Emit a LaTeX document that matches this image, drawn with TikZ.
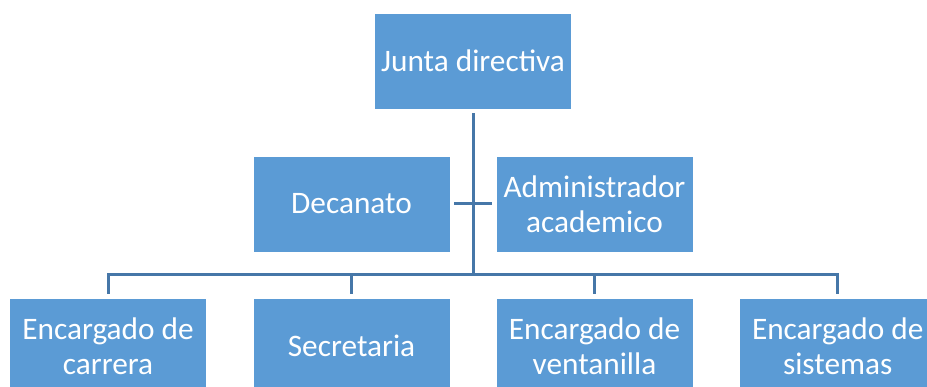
\documentclass[tikz,border=0pt]{standalone}
\usepackage{fontspec}
\setmainfont{Carlito}
\definecolor{boxblue}{HTML}{5B9BD5}
\definecolor{linecol}{HTML}{4677A8}
\begin{document}
\begin{tikzpicture}[x=1pt,y=-1pt,
  box/.style={fill=boxblue,draw=white,line width=0.8pt,text=white,align=center,
    minimum width=197pt,minimum height=96pt,inner sep=0pt,
    font=\fontsize{31.3}{35}\selectfont},
  conn/.style={draw=linecol,line width=3pt}]
\useasboundingbox (0,0) rectangle (927,387);
\fill[white] (0,0) rectangle (927,387);
\clip (0,0) rectangle (927,387);
\node[box] (jd) at (473,61) {Junta directiva};
\node[box] (dec) at (351.5,204) {Decanato};
\node[box] (adm) at (594.5,204) {Administrador\\academico};
\node[box] (e1) at (108,346) {Encargado de\\carrera};
\node[box] (e2) at (351.5,346) {Secretaria};
\node[box] (e3) at (594.5,346) {Encargado de\\ventanilla};
\node[box] (e4) at (837.7,346) {Encargado de\\sistemas};
\coordinate (bus) at (473,275);
\draw[conn,shorten <=4pt] (jd.south) -- (bus);
\draw[conn,shorten <=4pt,shorten >=4pt] (dec.east) -- (adm.west);
\draw[conn,shorten <=4pt,shorten >=4pt] (e1.north) |- (bus) -| (e4.north);
\draw[conn,shorten <=4pt] (e2.north) -- (e2.north |- bus);
\draw[conn,shorten <=4pt] (e3.north) -- (e3.north |- bus);
\end{tikzpicture}
\end{document}
